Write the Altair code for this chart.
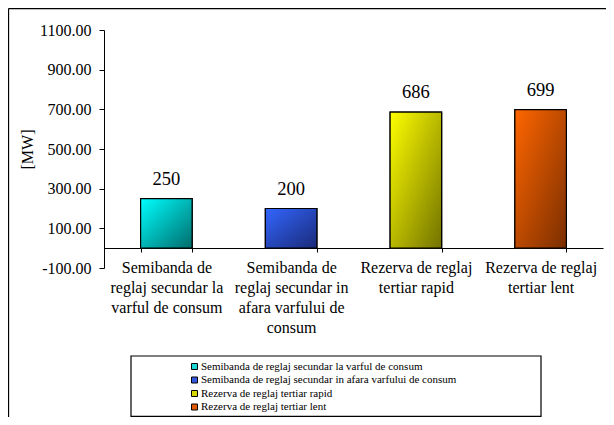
import altair as alt
import pandas as pd

series_names = [
    "Semibanda de reglaj secundar la varful de consum",
    "Semibanda de reglaj secundar in afara varfului de consum",
    "Rezerva de reglaj tertiar rapid",
    "Rezerva de reglaj tertiar lent",
]
axis_labels = [
    "Semibanda de|reglaj secundar la|varful de consum",
    "Semibanda de|reglaj secundar in|afara varfului de|consum",
    "Rezerva de reglaj|tertiar rapid",
    "Rezerva de reglaj|tertiar lent",
]
values = [250, 200, 686, 699]
y_ticks = [-100, 100, 300, 500, 700, 900, 1100]

solid_colors = ["#1ad6d6", "#3358e0", "#d6d600", "#e05a00"]
grad_light = ["#00ffff", "#3366ff", "#ffff00", "#ff6600"]
grad_dark = ["#006b6b", "#1a2a78", "#727200", "#7a2e00"]

df = pd.DataFrame({"cat": axis_labels, "series": series_names, "value": values})

FONT = "'Liberation Serif', 'Times New Roman', Times, serif"

x_enc = alt.X(
    "cat:N",
    sort=axis_labels,
    scale=alt.Scale(paddingInner=0.587, paddingOuter=0.2935),
    axis=alt.Axis(
        title=None,
        labelExpr="split(datum.label, '|')",
        labelAngle=0,
        labelFont=FONT,
        labelFontSize=16,
        labelLineHeight=20.3,
        labelColor="black",
        labelPadding=7,
        labelLimit=200,
        tickBand="extent",
        tickSize=4,
        tickColor="black",
        domainColor="black",
        offset=-20,
    ),
)
y_enc = alt.Y(
    "value:Q",
    scale=alt.Scale(domain=[-100, 1100], nice=False, zero=False),
    axis=alt.Axis(
        title="[MW]",
        values=y_ticks,
        format=".2f",
        labelExpr="replace(datum.label, '\u2212', '-')",
        grid=False,
        labelFont=FONT,
        labelFontSize=16,
        labelColor="black",
        labelPadding=8,
        tickSize=5,
        tickColor="black",
        domainColor="black",
        titleFont=FONT,
        titleFontSize=16,
        titleFontWeight="normal",
        titleColor="black",
        titlePadding=4,
    ),
)

base = alt.Chart(df)

legend_bars = base.mark_bar(stroke="black", strokeWidth=1.2).encode(
    x=x_enc,
    y=y_enc,
    y2=alt.datum(0),
    color=alt.Color(
        "series:N",
        sort=series_names,
        scale=alt.Scale(domain=series_names, range=solid_colors),
        legend=alt.Legend(
            title=None,
            orient="none",
            legendX=85,
            legendY=331,
            padding=0,
            symbolType="square",
            symbolSize=36,
            symbolStrokeColor="black",
            symbolStrokeWidth=1,
            symbolOpacity=1,
            labelFont=FONT,
            labelFontSize=11,
            labelColor="black",
            labelOffset=1,
            labelLimit=400,
            rowPadding=1.5,
        ),
    ),
)

layers = [legend_bars]
for i, name in enumerate(series_names):
    grad = alt.Gradient(
        gradient="linear",
        stops=[
            alt.GradientStop(color=grad_light[i], offset=0),
            alt.GradientStop(color=grad_dark[i], offset=1),
        ],
        x1=0, y1=0, x2=1, y2=1,
    )
    layers.append(
        base.transform_filter(alt.datum.series == name)
        .mark_bar(fill=grad, stroke="black", strokeWidth=1.2)
        .encode(x=x_enc, y=y_enc, y2=alt.datum(0))
    )

labels = base.mark_text(font=FONT, fontSize=18.5, color="black", dy=-20, baseline="middle").encode(
    x=x_enc, y=y_enc, text=alt.Text("value:Q", format="d")
)
layers.append(labels)

frame_data = alt.Data(values=[{"k": 1}])
legend_frame = alt.Chart(frame_data).mark_rect(fill=None, stroke="black", strokeWidth=1.2).encode(
    x=alt.value(27), x2=alt.value(437), y=alt.value(326), y2=alt.value(386.3)
)
outer_top = alt.Chart(frame_data).mark_rule(stroke="black", strokeWidth=1.3).encode(
    x=alt.value(-95.5), x2=alt.value(620), y=alt.value(-21.5)
)
outer_left = alt.Chart(frame_data).mark_rule(stroke="black", strokeWidth=1.3).encode(
    x=alt.value(-95.5), y=alt.value(-21.5), y2=alt.value(500)
)
layers += [legend_frame, outer_top, outer_left]

chart = (
    alt.layer(*layers)
    .properties(
        width=499,
        height=238,
        padding={"left": 96, "top": 22, "right": 3, "bottom": 149},
        autosize=alt.AutoSizeParams(type="none"),
        background="white",
    )
    .configure_view(stroke=None)
)

chart.save("out.html", embed_options={"renderer": "svg", "actions": False})
